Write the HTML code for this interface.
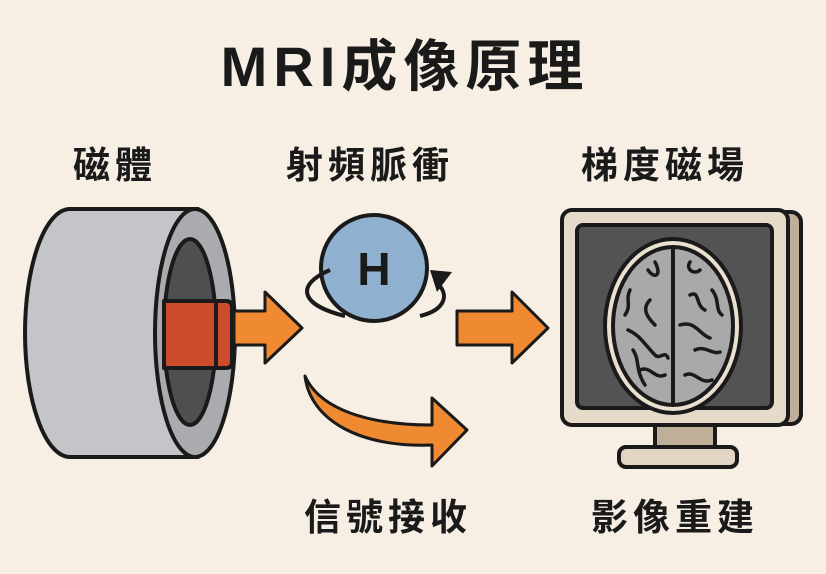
<!DOCTYPE html>
<html><head><meta charset="utf-8"><style>
html,body{margin:0;padding:0;background:#f8efe4;}
svg{display:block}
text{font-family:"Liberation Sans","Noto Sans CJK TC",sans-serif;font-weight:bold;fill:#1a1a1a;text-anchor:middle}
</style></head><body>
<svg width="826" height="574" viewBox="0 0 826 574" xmlns="http://www.w3.org/2000/svg">
<rect width="826" height="574" fill="#f8efe4"/>
<text x="405" y="86" font-size="56" letter-spacing="6">MRI成像原理</text>
<text x="115" y="178" font-size="37" letter-spacing="5">磁體</text>
<text x="370" y="178" font-size="37" letter-spacing="5">射頻脈衝</text>
<text x="665" y="178" font-size="37" letter-spacing="5">梯度磁場</text>
<text x="388" y="530" font-size="37" letter-spacing="5">信號接收</text>
<text x="675" y="530" font-size="37" letter-spacing="5">影像重建</text>

<g stroke="#1a1a1a" stroke-width="4" stroke-linejoin="round">
<path d="M70 209 L198 209 L198 457 L70 457 A45 124 0 0 1 70 209 Z" fill="#c3c5c8"/>
<ellipse cx="195" cy="333" rx="40" ry="124" fill="#a9abae"/>
<ellipse cx="190" cy="332" rx="26" ry="93" fill="#4e4f51"/>
<path d="M164 301 L226 301 Q232 301 232 307 L232 362 Q232 368 226 368 L164 368 Z" fill="#cc4b2c"/>
<line x1="216" y1="301" x2="216" y2="368"/>
</g>
<path d="M234 311 L265 311 L265 292 L302 328 L265 363 L265 345 L234 345 Z" fill="#ef8a33" stroke="#1a1a1a" stroke-width="3" stroke-linejoin="round"/>
<circle cx="374" cy="268" r="53" fill="#8fb0cf" stroke="#1a1a1a" stroke-width="4"/>
<path d="M330 270 C295 285 300 305 345 316" fill="none" stroke="#1a1a1a" stroke-width="4"/>
<path d="M420 316 C445 310 450 295 437 283" fill="none" stroke="#1a1a1a" stroke-width="4"/>
<path d="M430 270 L452 272 L437 292 Z" fill="#1a1a1a"/>
<text x="374" y="285" font-size="46">H</text>
<path d="M457 311 L512 311 L512 292 L548 328 L512 363 L512 345 L457 345 Z" fill="#ef8a33" stroke="#1a1a1a" stroke-width="3" stroke-linejoin="round"/>
<path d="M305 376 C320 410 370 425 432 425 L432 398 L467 430 L432 466 L432 445 C360 448 310 420 305 376 Z" fill="#ef8a33" stroke="#1a1a1a" stroke-width="3" stroke-linejoin="round"/>
<g stroke="#1a1a1a" stroke-width="4" stroke-linejoin="round">
<rect x="655" y="420" width="60" height="32" fill="#bfae98"/>
<rect x="619" y="447" width="118" height="20" rx="7" fill="#e2d5c3"/>
<rect x="575" y="212" width="226" height="212" rx="10" fill="#bfae98"/>
<rect x="562" y="210" width="226" height="215" rx="10" fill="#e6dac8"/>
<rect x="577" y="225" width="195" height="183" rx="6" fill="#535353"/>
<ellipse cx="673" cy="326" rx="68" ry="87" fill="#e9e0d0"/>
<ellipse cx="673" cy="326" rx="60" ry="79" fill="#a9a9a9"/>
<line x1="673" y1="248" x2="673" y2="404"/>
</g>
<g fill="none" stroke="#1a1a1a" stroke-width="3.5" stroke-linecap="round">
<path d="M648 270 C655 280 662 275 655 262"/>
<path d="M630 290 C625 300 632 305 625 315"/>
<path d="M650 300 C640 310 650 320 655 325"/>
<path d="M628 330 C640 335 645 345 655 355 C660 360 665 350 668 358"/>
<path d="M640 370 C650 365 655 380 665 375"/>
<path d="M690 262 C685 270 695 275 700 270"/>
<path d="M690 295 C700 290 695 305 705 310"/>
<path d="M712 290 C720 300 715 310 722 315"/>
<path d="M680 325 C695 320 700 335 710 338"/>
<path d="M695 350 C705 345 712 355 720 352"/>
<path d="M685 375 C695 370 700 385 712 380"/>
<path d="M633 350 C640 360 635 370 645 385"/>
</g>
</svg>
</body></html>
